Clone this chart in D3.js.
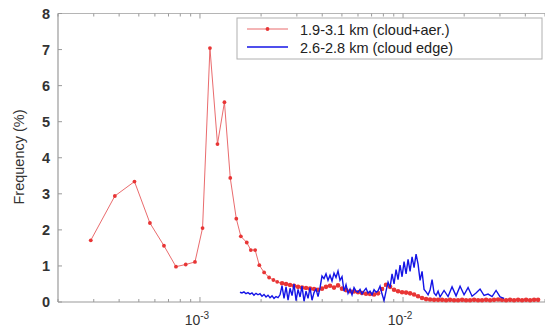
<!DOCTYPE html>
<html><head><meta charset="utf-8">
<script src="https://cdn.jsdelivr.net/npm/d3@7"></script>
<style>body{margin:0;background:#fff}svg{display:block}text{font-family:"Liberation Sans",Arial,sans-serif}</style>
</head><body>
<script>
// ---- data ----
const redX = [2.9e-4,3.81e-4,4.76e-4,5.67e-4,6.65e-4,7.62e-4,8.51e-4,9.45e-4,1.03e-3,1.12e-3,1.22e-3,1.32e-3,1.41e-3,1.51e-3,1.59e-3,1.70e-3,1.78e-3,1.87e-3,1.96e-3,2.07e-3,2.19e-3,2.30e-3,2.40e-3,
 2.536e-3,2.654e-3,2.777e-3,2.906e-3,3.041e-3,3.181e-3,3.329e-3,3.483e-3,3.645e-3,3.815e-3,3.990e-3,4.175e-3,4.369e-3,4.572e-3,4.784e-3,5.006e-3,5.239e-3,5.482e-3,5.737e-3,6.003e-3,6.282e-3,6.573e-3,6.878e-3,7.198e-3,7.532e-3,7.881e-3,8.247e-3,8.630e-3,9.031e-3,9.450e-3,9.889e-3,
 10.348e-3,10.828e-3,11.331e-3,11.857e-3,12.406e-3,12.982e-3,13.585e-3,14.216e-3,14.876e-3,15.57e-3,16.29e-3,17.04e-3,17.83e-3,18.66e-3,19.53e-3,20.43e-3,21.38e-3,22.37e-3,23.41e-3,24.49e-3,25.63e-3,26.82e-3,28.06e-3,29.37e-3,30.73e-3,32.16e-3,33.65e-3,35.21e-3,36.85e-3,38.56e-3,40.34e-3,42.22e-3,44.17e-3,46.22e-3];
const redY = [1.71,2.94,3.34,2.19,1.56,0.98,1.04,1.11,2.05,7.04,4.38,5.54,3.44,2.31,1.82,1.65,1.44,1.44,1.02,0.82,0.68,0.61,0.56,
 0.52,0.50,0.47,0.45,0.42,0.40,0.39,0.37,0.36,0.34,0.37,0.42,0.45,0.40,0.46,0.37,0.33,0.30,0.29,0.27,0.25,0.23,0.22,0.21,0.24,0.36,0.48,0.42,0.34,0.30,0.27,
 0.26,0.24,0.21,0.16,0.11,0.08,0.07,0.06,0.06,0.06,0.05,0.06,0.05,0.05,0.06,0.05,0.05,0.06,0.05,0.05,0.06,0.05,0.06,0.07,0.06,0.05,0.06,0.05,0.06,0.05,0.06,0.05,0.06,0.06];
const blueX = [1.574e-3,1.610e-3,1.647e-3,1.685e-3,1.724e-3,1.763e-3,1.804e-3,1.845e-3,1.888e-3,1.931e-3,1.975e-3,2.021e-3,2.067e-3,2.115e-3,2.163e-3,2.213e-3,2.264e-3,2.316e-3,2.369e-3,2.423e-3,2.479e-3,
 2.536e-3,2.594e-3,2.654e-3,2.715e-3,2.777e-3,2.841e-3,2.906e-3,2.973e-3,3.041e-3,3.111e-3,3.181e-3,3.254e-3,3.329e-3,3.405e-3,3.483e-3,3.563e-3,3.645e-3,3.729e-3,3.815e-3,3.902e-3,
 3.990e-3,4.081e-3,4.175e-3,4.271e-3,4.369e-3,4.469e-3,4.572e-3,4.677e-3,4.784e-3,4.894e-3,5.006e-3,
 5.121e-3,5.239e-3,5.359e-3,5.482e-3,5.608e-3,5.737e-3,5.868e-3,6.003e-3,6.141e-3,6.282e-3,6.426e-3,6.573e-3,6.724e-3,6.878e-3,7.036e-3,7.198e-3,7.363e-3,7.532e-3,7.705e-3,7.881e-3,8.062e-3,8.247e-3,
 8.437e-3,8.630e-3,8.828e-3,9.031e-3,9.238e-3,9.450e-3,9.667e-3,9.889e-3,10.116e-3,10.348e-3,10.585e-3,10.828e-3,11.077e-3,11.331e-3,11.591e-3,11.857e-3,12.129e-3,12.406e-3,
 12.691e-3,12.982e-3,13.280e-3,13.585e-3,13.897e-3,14.216e-3,14.542e-3,14.876e-3,15.217e-3,
 15.92e-3,16.66e-3,17.43e-3,18.24e-3,19.09e-3,19.97e-3,20.90e-3,21.87e-3,22.88e-3,23.95e-3,25.06e-3,26.22e-3,27.44e-3,28.71e-3,30.05e-3,31.44e-3];
const blueY = [0.27,0.25,0.28,0.23,0.26,0.22,0.25,0.19,0.24,0.20,0.23,0.16,0.21,0.14,0.19,0.12,0.17,0.10,0.15,0.12,0.20,
 0.45,0.10,0.42,0.05,0.38,0.18,0.50,0.04,0.35,0.14,0.44,0.02,0.30,0.10,0.40,0.05,0.26,0.36,0.15,0.40,
 0.72,0.65,0.78,0.60,0.74,0.58,0.80,0.68,0.86,0.60,0.70,
 0.30,0.48,0.24,0.36,0.20,0.40,0.30,0.27,0.35,0.22,0.31,0.38,0.25,0.30,0.20,0.34,0.27,0.31,0.44,0.22,0.04,0.30,
 0.55,0.40,0.78,0.50,0.90,0.62,1.02,0.70,1.12,0.78,1.18,0.85,1.25,0.95,1.33,1.05,0.60,0.85,
 0.35,0.28,0.20,0.33,0.62,0.25,0.18,0.30,0.14,
 0.32,0.15,0.42,0.17,0.44,0.20,0.40,0.16,0.25,0.36,0.18,0.22,0.15,0.32,0.14,0.10];
const yTicks = [0,1,2,3,4,5,6,7,8];
const xMajor = [1e-3, 1e-2];
const xMinor = [2e-4,3e-4,4e-4,5e-4,6e-4,7e-4,8e-4,9e-4,2e-3,3e-3,4e-3,5e-3,6e-3,7e-3,8e-3,9e-3,2e-2,3e-2,4e-2,5e-2];
const legendLabels = ["1.9-3.1 km (cloud+aer.)", "2.6-2.8 km (cloud edge)"];
const yLabel = "Frequency (%)";

// ---- chart ----
const W = 545, H = 330;
const svg = d3.select("body").append("svg").attr("width", W).attr("height", H);
const x = d3.scaleLog().domain([2e-4, 0.05]).range([58, 545]);
const y = d3.scaleLinear().domain([0, 8]).range([302, 13.5]);
const axisCol = "#9a9a9a";

// frame lines
svg.append("line").attr("x1", 58).attr("x2", 545).attr("y1", y(0)).attr("y2", y(0)).attr("stroke", axisCol).attr("stroke-width", 1.2);
svg.append("line").attr("x1", 58).attr("x2", 545).attr("y1", y(8)).attr("y2", y(8)).attr("stroke", "#b5b5b5").attr("stroke-width", 1);
svg.append("line").attr("x1", 58).attr("x2", 58).attr("y1", y(0)).attr("y2", y(8)).attr("stroke", axisCol).attr("stroke-width", 1.2);

// y ticks + labels
svg.selectAll(".yt").data(yTicks).join("line").attr("x1", 58).attr("x2", 62)
  .attr("y1", d => y(d)).attr("y2", d => y(d)).attr("stroke", axisCol);
svg.selectAll(".yl").data(yTicks).join("text").attr("x", 50).attr("y", d => y(d) + 5)
  .attr("text-anchor", "end").attr("font-size", 14.5).attr("font-weight", "bold").attr("fill", "#333").text(d => d);

// x ticks (bottom & top)
[[y(0), -1], [y(8), 1]].forEach(([yy, dir]) => {
  svg.append("g").selectAll("line").data(xMinor).join("line")
    .attr("x1", d => x(d)).attr("x2", d => x(d)).attr("y1", yy).attr("y2", yy + dir * 3).attr("stroke", axisCol);
  svg.append("g").selectAll("line").data(xMajor).join("line")
    .attr("x1", d => x(d)).attr("x2", d => x(d)).attr("y1", yy).attr("y2", yy + dir * 5).attr("stroke", axisCol);
});
const xl = svg.selectAll(".xl").data(xMajor).join("text").attr("x", d => x(d) - 3).attr("y", 325)
  .attr("text-anchor", "middle").attr("font-size", 14).attr("fill", "#333");
xl.append("tspan").text("10");
xl.append("tspan").attr("dy", -6).attr("font-size", 10).text(d => String(Math.round(Math.log10(d))));

// y label
svg.append("text").attr("transform", `translate(24,${157}) rotate(-90)`).attr("text-anchor", "middle")
  .attr("font-size", 14.5).attr("fill", "#333").text(yLabel);

// series
const red = redX.map((v, i) => [v, redY[i]]);
const blue = blueX.map((v, i) => [v, blueY[i]]);
const line = d3.line().x(d => x(d[0])).y(d => y(d[1]));
svg.append("path").datum(red).attr("d", line).attr("fill", "none").attr("stroke", "#e65a5c").attr("stroke-width", 0.9);
svg.append("g").selectAll("circle").data(red).join("circle").attr("cx", d => x(d[0])).attr("cy", d => y(d[1]))
  .attr("r", (d, i) => i < 23 ? 1.9 : 2.3).attr("fill", "#e83535");
svg.append("path").datum(blue).attr("d", line).attr("fill", "none").attr("stroke", "#1414e6").attr("stroke-width", 1.4);

// legend
const lg = svg.append("g");
lg.append("rect").attr("x", 237).attr("y", 18).attr("width", 305).attr("height", 41).attr("fill", "#fff").attr("stroke", "#b0b0b0");
lg.append("line").attr("x1", 247).attr("x2", 288).attr("y1", 29).attr("y2", 29).attr("stroke", "#e65a5c").attr("stroke-width", 0.9);
lg.append("circle").attr("cx", 267.5).attr("cy", 29).attr("r", 1.9).attr("fill", "#e83535");
lg.append("line").attr("x1", 247).attr("x2", 288).attr("y1", 47).attr("y2", 47).attr("stroke", "#1414e6").attr("stroke-width", 1.4);
lg.selectAll("text").data(legendLabels).join("text").attr("x", 300).attr("y", (d, i) => 35 + i * 17.5)
  .attr("font-size", 14.5).attr("fill", "#222").text(d => d);
</script>
</body></html>
